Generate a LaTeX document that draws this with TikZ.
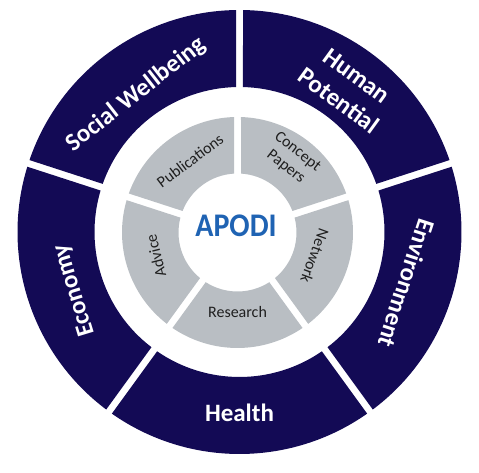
\documentclass[tikz,border=0pt]{standalone}
\usepackage{fontspec}
\setmainfont{Carlito}
\definecolor{navy}{HTML}{130A55}
\definecolor{ltgray}{HTML}{B9BEC3}
\definecolor{apodiblue}{HTML}{1F63B3}
\begin{document}
\begin{tikzpicture}[x=1pt,y=1pt,
  outerlbl/.style={text=white,font=\fontsize{25}{31}\selectfont\bfseries,align=center,inner sep=0pt},
  innerlbl/.style={text=black!88,font=\fontsize{16}{19}\selectfont,align=center,inner sep=0pt},
  centerlbl/.style={text=apodiblue,font=\fontsize{30}{36}\selectfont\bfseries,inner sep=0pt}]
\useasboundingbox (0,0) rectangle (479,473);
\def\gap{3.5}
% outer ring
\begin{scope}[shift={(239.5,241)}]
\foreach \a in {18,90,162,234,306}{
  \pgfmathsetmacro\b{\a+72}
  \pgfmathsetmacro\dO{asin(\gap/222)}
  \pgfmathsetmacro\dI{asin(\gap/145)}
  \fill[navy] (\a+\dO:222) arc[start angle=\a+\dO, end angle=\b-\dO, radius=222]
     -- (\b-\dI:145) arc[start angle=\b-\dI, end angle=\a+\dI, radius=145] -- cycle;
}
\node[outerlbl,rotate=38] (sw) at (127:172) {Social Wellbeing};
\node[outerlbl,rotate=-36] (hp) at (53:180) {Human\\Potential};
\node[outerlbl,rotate=-108] (en) at (-17:175) {Environment};
\node[outerlbl] (he) at (270:181) {Health};
\node[outerlbl,rotate=107] (ec) at (199.5:175) {Economy};
\end{scope}
% inner ring
\begin{scope}[shift={(237.5,240.5)}]
\foreach \a in {18,90,162,234,306}{
  \pgfmathsetmacro\b{\a+72}
  \pgfmathsetmacro\dO{asin(\gap/115.5)}
  \pgfmathsetmacro\dI{asin(\gap/59)}
  \fill[ltgray] (\a+\dO:115.5) arc[start angle=\a+\dO, end angle=\b-\dO, radius=115.5]
     -- (\b-\dI:59) arc[start angle=\b-\dI, end angle=\a+\dI, radius=59] -- cycle;
}
\node[innerlbl,rotate=37] (pub) at (123.5:86) {Publications};
\node[innerlbl,rotate=-38] (cp) at (53.5:91) {Concept\\Papers};
\node[innerlbl,rotate=-110] (net) at (-17:81) {Network};
\node[innerlbl] (res) at (270:80) {Research};
\node[innerlbl,rotate=104] (adv) at (196:85) {Advice};
\end{scope}
\node[centerlbl,yscale=1.1] (apodi) at (236,247) {APODI};
\end{tikzpicture}
\end{document}
